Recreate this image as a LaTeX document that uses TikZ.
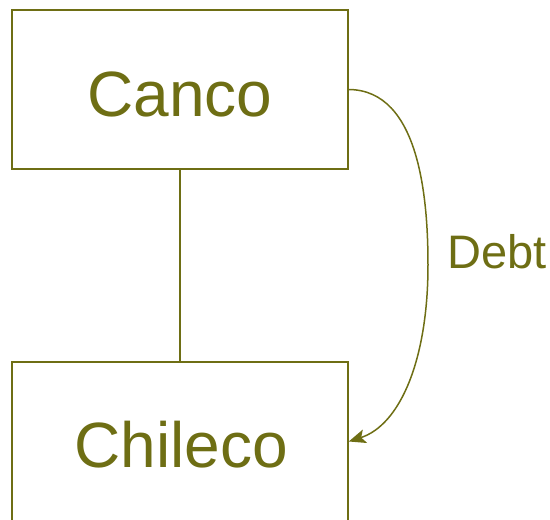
\documentclass[tikz,border=0pt]{standalone}
\usepackage{fontspec}
\setmainfont{Liberation Sans}
\usetikzlibrary{arrows.meta}
\definecolor{olive}{RGB}{110,110,20}
\begin{document}
\begin{tikzpicture}[x=1pt,y=-1pt,
  entity/.style={draw=olive, line width=1.5pt, minimum width=336pt, minimum height=159pt, inner sep=0pt},
  link/.style={draw=olive, line width=1.5pt},
  bigtext/.style={text=olive, font=\fontsize{64}{64}\selectfont, anchor=base},
  lbl/.style={text=olive, font=\fontsize{47}{47}\selectfont, anchor=base west}]
  \useasboundingbox (0,0) rectangle (550,520);
  \clip (0,0) rectangle (550,520);
  \node[entity] (canco) at (180,89.5) {};
  \node[entity] (chileco) at (180,441.5) {};
  \node[bigtext] (cancotxt) at (180,116) {Canco};
  \node[bigtext] (chilecotxt) at (181,467) {Chileco};
  \draw[link] (canco.south) -- (chileco.north);
  \draw[link, -{Stealth[length=17pt,width=14pt,inset=4pt]}]
    (canco.east) .. controls (420,90) and (428,200) .. (428,265)
    .. controls (428,360) and (400,425) .. (chileco.east);
  \node[lbl] (debt) at (444,268) {Debt};
\end{tikzpicture}
\end{document}
